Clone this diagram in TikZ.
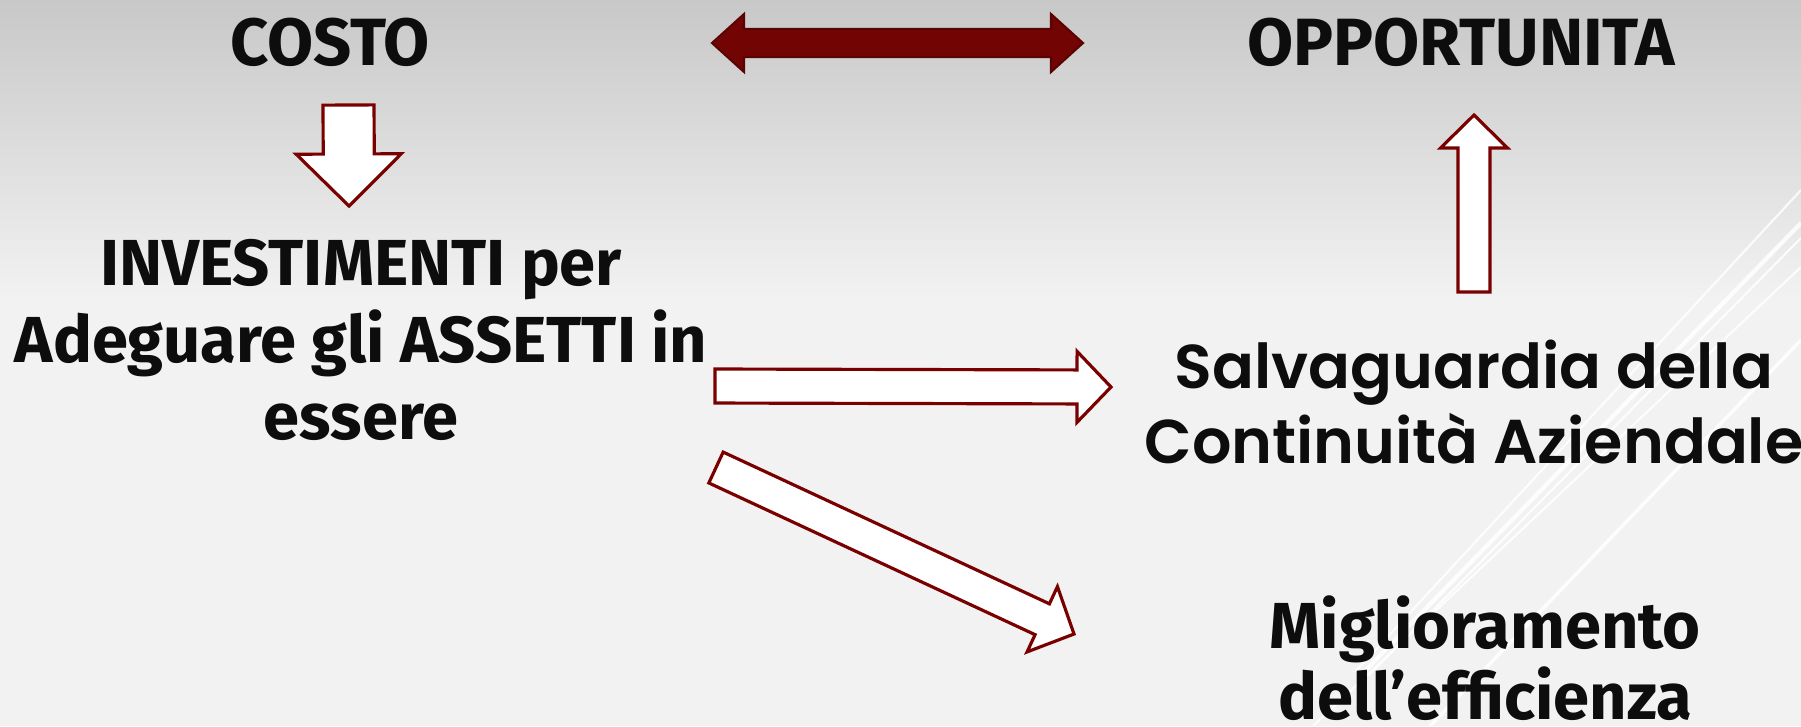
\documentclass[tikz,border=0pt]{standalone}
\usepackage{fontspec}
\setmainfont{Fira Sans}
\newfontfamily\salvfont{Poppins SemiBold}
\usepackage{tikz}
\usetikzlibrary{calc}
\definecolor{bgtop}{RGB}{200, 200, 200}
\definecolor{bgbottom}{RGB}{242, 242, 242}
\definecolor{darkred}{RGB}{122, 0, 0}
\definecolor{deepred}{RGB}{114, 4, 4}
\definecolor{inkblack}{RGB}{13, 13, 13}

\tikzset{
    hollowarrow/.style={fill=white, draw=darkred, line width=0.9pt, line join=miter},
    solidarrow/.style={fill=deepred, draw=deepred!80!black, line width=0.6pt, line join=miter},
    sheen/.style={draw=white, opacity=0.85}
}

% block arrow: tail, tip, half shaft, half head, head length
\newcommand{\blockarrow}[6][hollowarrow]{%
    \coordinate (hb) at ($(#3)!#6!(#2)$);
    \draw[#1] ($(#2)!#4!90:(#3)$) -- ($(hb)!#4!90:(#3)$) -- ($(hb)!#5!90:(#3)$) -- (#3)
        -- ($(hb)!#5!-90:(#3)$) -- ($(hb)!#4!-90:(#3)$) -- ($(#2)!#4!-90:(#3)$) -- cycle;
}
% arrow with a head at both ends
\newcommand{\doublearrow}[6][solidarrow]{%
    \coordinate (ha) at ($(#2)!#6!(#3)$);
    \coordinate (hb) at ($(#3)!#6!(#2)$);
    \draw[#1] (#2) -- ($(ha)!#5!90:(#3)$) -- ($(ha)!#4!90:(#3)$) -- ($(hb)!#4!90:(#3)$)
        -- ($(hb)!#5!90:(#3)$) -- (#3) -- ($(hb)!#5!-90:(#3)$) -- ($(hb)!#4!-90:(#3)$)
        -- ($(ha)!#4!-90:(#3)$) -- ($(ha)!#5!-90:(#3)$) -- cycle;
}

\begin{document}
\begin{tikzpicture}[x=0.01cm, y=-0.01cm,
    every node/.style={text=inkblack, inner sep=0pt, align=center},
    headword/.style={font=\fontsize{19pt}{23pt}\selectfont\bfseries},
    bodytext/.style={font=\fontsize{18.5pt}{21.9pt}\selectfont\bfseries},
    salvtext/.style={font=\fontsize{17.6pt}{21.3pt}\selectfont\salvfont}]
    \useasboundingbox (0, 0) rectangle (1801, 726);

    % background
    \fill[top color=bgtop, bottom color=bgbottom] (0, 0) rectangle (1801, 300);
    \fill[bgbottom] (0, 300) rectangle (1801, 726);
    \draw[sheen, line width=0.6pt] (1801, 190) -- (1355, 672);
    \draw[sheen, line width=1.2pt] (1801, 223) -- (1360, 676);
    \draw[sheen, line width=0.6pt] (1801, 238) -- (1368, 676);
    \draw[sheen, line width=0.6pt] (1801, 267) -- (1313, 726);
    \draw[sheen, line width=1.0pt] (1801, 340) -- (1430, 726);

    \node[headword] (costo) at (330, 42) {COSTO};
    \node[headword] (opport) at (1461, 42) {OPPORTUNITA};
    \node[bodytext] (invest) at (361, 340) {INVESTIMENTI per\\Adeguare gli ASSETTI in\\essere};
    \node[salvtext] (salva) at (1474, 402) {Salvaguardia della\\Continuità Aziendale};
    \node[bodytext, font=\fontsize{18.5pt}{20.2pt}\selectfont\bfseries] (miglior) at (1485, 658) {Miglioramento\\dell’efficienza};

    \coordinate (dbl-l) at (712, 43);
    \coordinate (dbl-r) at (1083, 43);
    \coordinate (down-a) at (348.5, 105);
    \coordinate (down-b) at (349, 206);
    \coordinate (up-a) at (1474, 292);
    \coordinate (up-b) at (1474, 115);
    \coordinate (right-a) at (715, 386);
    \coordinate (right-b) at (1111, 387);
    \coordinate (diag-a) at (716, 467.5);
    \coordinate (diag-b) at (1074, 634);

    \doublearrow{dbl-l}{dbl-r}{0.14cm}{0.29cm}{0.32cm}
    \blockarrow{down-a}{down-b}{0.255cm}{0.525cm}{0.52cm}
    \blockarrow{up-a}{up-b}{0.16cm}{0.335cm}{0.33cm}
    \blockarrow{right-a}{right-b}{0.17cm}{0.355cm}{0.34cm}
    \blockarrow{diag-a}{diag-b}{0.17cm}{0.36cm}{0.35cm}
\end{tikzpicture}
\end{document}
